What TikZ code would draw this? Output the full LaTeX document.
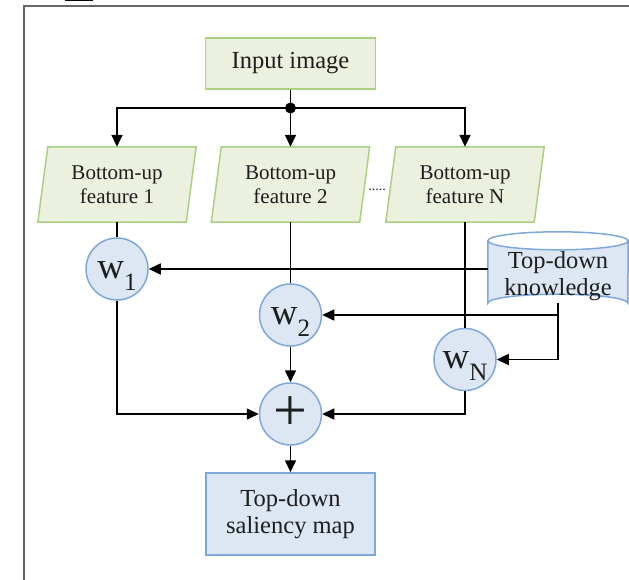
\documentclass[tikz,border=0pt]{standalone}
\usepackage{fontspec}
\setmainfont{Liberation Serif}
\usetikzlibrary{arrows.meta,calc,backgrounds}
\definecolor{gfill}{HTML}{EBF1DE}
\definecolor{gline}{HTML}{ABD07F}
\definecolor{bfill}{HTML}{DDE7F3}
\definecolor{bline}{HTML}{7EA8DA}
\definecolor{framecol}{HTML}{666666}
\definecolor{txt}{HTML}{1E1E1E}
\newcommand\wlab[1]{{\fontsize{37pt}{37pt}\selectfont w}\raisebox{-12pt}{\fontsize{25pt}{25pt}\selectfont #1}}
\begin{document}
\begin{tikzpicture}[x=1pt,y=-1pt,
  big/.style={font=\fontsize{24.5pt}{27pt}\selectfont, text=txt, align=center},
  gbox/.style={big, draw=gline, fill=gfill, line width=1.5pt, minimum width=170pt, minimum height=51pt, inner sep=0pt},
  bbox/.style={big, draw=bline, fill=bfill, line width=1.5pt, minimum width=169pt, minimum height=82pt, inner sep=0pt},
  fpar/.style={font=\fontsize{21pt}{24pt}\selectfont, text=txt, align=center, minimum width=138pt, minimum height=75pt, inner sep=0pt},
  gpar/.style={draw=gline, fill=gfill, line width=1.5pt},
  circ/.style={circle, draw=bline, fill=bfill, line width=1.5pt, minimum size=62pt, inner sep=0pt, text=txt},
  wtxt/.style={text height=30pt, text depth=12pt},
  conn/.style={line width=1.6pt, black},
  arr/.style={conn, -{Triangle[length=12pt,width=11pt]}}
]
\useasboundingbox (0,0) rectangle (629,580);
\fill (65,0) rectangle (93,1.5);
\draw[framecol, line width=2pt] (24,580) -- (24,6) -- (629,6);

% nodes
\node[gbox] (in) at (290.5,63.5) {Input image};
\node[fpar] (f1) at (117,184.5) {Bottom-up\\feature 1};
\node[fpar] (f2) at (290.5,184.5) {Bottom-up\\feature 2};
\node[fpar] (fN) at (465,184.5) {Bottom-up\\feature N};
\node[font=\fontsize{14pt}{14pt}\selectfont, text=txt, inner sep=0pt] (dots) at (377,190) {.....};
\node[big, minimum width=140pt, minimum height=53pt, inner sep=0pt] (kn) at (558,276.5) {Top-down\\knowledge};
\node[circ, wtxt] (w1) at (117,269) {\wlab{1}};
\node[circ, wtxt] (w2) at (290.5,315) {\wlab{2}};
\node[circ, wtxt] (wN) at (465,359.5) {\wlab{N}};
\node[circ, font=\fontsize{60pt}{60pt}\selectfont] (plus) at (290.5,414) {+};
\node[bbox] (out) at (290.5,514) {Top-down\\saliency map};
\coordinate (jn) at (290.5,108);

\begin{pgfonlayer}{background}
  \foreach \f in {f1,f2,fN}{
    \path[gpar] ($(\f.south west)+(-10,0)$) -- (\f.south east) -- ($(\f.north east)+(10,0)$) -- (\f.north west) -- cycle;
  }
  \path[draw=bline, fill=bfill, line width=1.5pt]
    ($(kn.north west)+(0,-9)$) -- (kn.south west)
    arc[start angle=180, end angle=0, x radius=70pt, y radius=9pt]
    -- ($(kn.north east)+(0,-9)$)
    arc[start angle=0, end angle=-180, x radius=70pt, y radius=9pt] -- cycle;
  \draw[bline, line width=1.5pt] ($(kn.north west)+(0,-9)$)
    arc[start angle=180, end angle=0, x radius=70pt, y radius=9pt];
\end{pgfonlayer}

% connectors
\draw[conn] (in.south) -- (jn);
\fill (jn) circle[radius=5.5pt];
\draw[arr] (jn) -| (f1.north);
\draw[arr] (jn) -- (f2.north);
\draw[arr] (jn) -| (fN.north);
\draw[conn] (f1.south) -- (w1.north);
\draw[conn] (f2.south) -- (w2.north);
\draw[conn] (fN.south) -- (wN.north);
\draw[arr] (kn.west |- w1.east) -- (w1.east);
\draw[arr] (kn.south) |- (w2.east);
\draw[arr] (kn.south) |- (wN.east);
\draw[arr] (w1.south) |- (plus.west);
\draw[arr] (w2.south) -- (plus.north);
\draw[arr] (wN.south) |- (plus.east);
\draw[arr] (plus.south) -- (out.north);
\end{tikzpicture}
\end{document}
